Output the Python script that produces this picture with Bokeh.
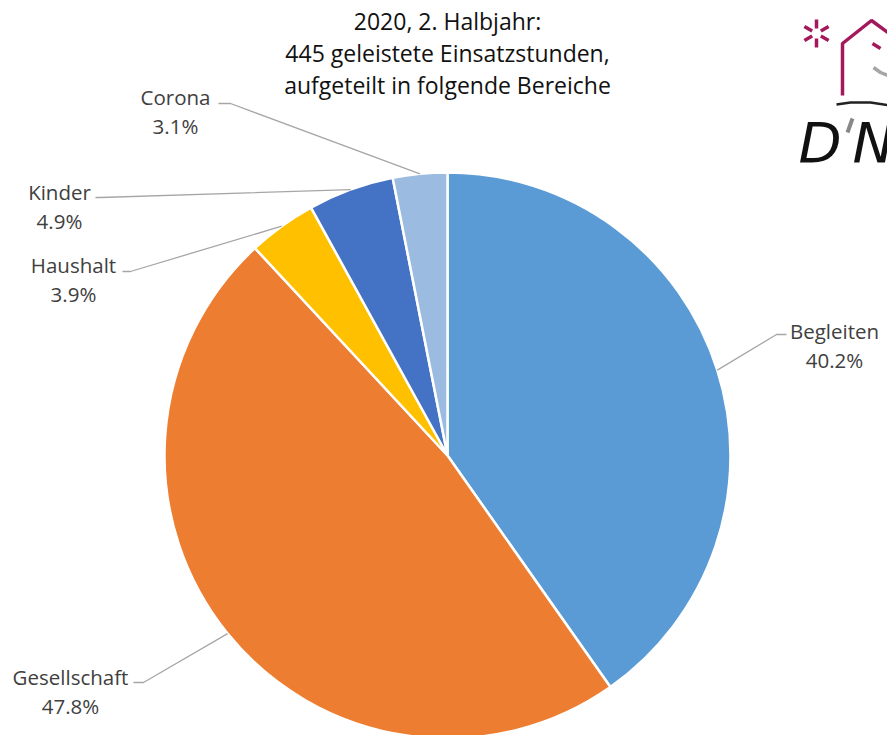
import math
from bokeh.plotting import figure
from bokeh.models import Range1d
from bokeh.core.properties import value
from bokeh.embed import file_html
from bokeh.resources import INLINE

# ---- data ----
categories = ["Begleiten", "Gesellschaft", "Haushalt", "Kinder", "Corona"]
percent = [40.2, 47.8, 3.9, 4.9, 3.1]
colors = ["#5B9BD5", "#ED7D31", "#FFC000", "#4472C4", "#9BBCE0"]
title_lines = ["2020, 2. Halbjahr:", "445 geleistete Einsatzstunden,", "aufgeteilt in folgende Bereiche"]

# ---- layout (pixel coords, y downward) ----
W, H = 887, 735
CX, CY, R = 447, 455, 283
label_pos = [(834, 330), (70, 676), (73, 264), (59, 191), (175, 96)]
bend_pts = [((776, 334), (786, 334)), ((143, 682), (133, 682)), ((130, 271), (122, 271)),
            ((100, 197), (95, 197)), ((230, 103), (218, 103))]
FONT = "Open Sans"

def Y(yp):
    return H - yp

p = figure(width=W, height=H, output_backend="svg", toolbar_location=None,
           x_range=Range1d(0, W), y_range=Range1d(0, H), min_border=0)
p.axis.visible = False
p.grid.visible = False
p.outline_line_color = None
p.background_fill_color = "white"

total = sum(percent)
cum = 0.0
starts, ends, mids = [], [], []
for v in percent:
    a0 = cum / total
    cum += v
    a1 = cum / total
    # clockwise from 12 o'clock
    starts.append(math.pi / 2 - 2 * math.pi * a1)
    ends.append(math.pi / 2 - 2 * math.pi * a0)
    mids.append(math.pi / 2 - 2 * math.pi * (a0 + a1) / 2)

p.wedge(x=[CX] * len(percent), y=[Y(CY)] * len(percent), radius=R,
        start_angle=starts, end_angle=ends, direction="anticlock",
        fill_color=colors, line_color="white", line_width=2.5)

# leader lines
for i, m in enumerate(mids):
    ex = CX + R * math.cos(m)
    ey = Y(CY) + R * math.sin(m)
    (bx, by), (hx, hy) = bend_pts[i]
    p.line([ex, bx, hx], [ey, Y(by), Y(hy)], line_color="#A6A6A6", line_width=1.3)

# labels
for i, c in enumerate(categories):
    lx, ly = label_pos[i]
    p.text(x=[lx], y=[Y(ly)], text=[c], text_align="center", text_baseline="middle",
           text_font=value(FONT), text_font_size="20.5px", text_color="#404040")
    p.text(x=[lx], y=[Y(ly + 29)], text=[f"{percent[i]:.1f}%"], text_align="center",
           text_baseline="middle", text_font=value(FONT), text_font_size="20.5px",
           text_color="#404040")

# title
for k, t in enumerate(title_lines):
    p.text(x=[447], y=[Y(20 + 32 * k)], text=[t], text_align="center", text_baseline="middle",
           text_font=value(FONT), text_font_size="23px", text_color="#111111")

# logo (top right)
MAG = "#A3195B"
acx, acy = 816, 33
for ang in [90, 30, 150, 210, 270, 330]:
    a = math.radians(ang)
    p.line([acx + 5 * math.cos(a), acx + 14 * math.cos(a)],
           [Y(acy) + 5 * math.sin(a), Y(acy) + 14 * math.sin(a)],
           line_color=MAG, line_width=3.5)
p.line([842, 842, 871, 890], [Y(95), Y(43), Y(20), Y(34)], line_color=MAG, line_width=3.5)
p.line([872, 880], [Y(43), Y(48)], line_color=MAG, line_width=3.5)
p.line([873, 880, 890], [Y(67), Y(72), Y(76)], line_color="#A6A6A6", line_width=3.5)
p.line([836, 850, 870, 890], [Y(104), Y(102), Y(102), Y(105)], line_color="#222222", line_width=2.5)
p.text(x=[798], y=[Y(142)], text=["D"], text_font=value("DejaVu Sans"), text_font_style="italic",
       text_font_size="56px", text_baseline="alphabetic", text_color="#111111")
p.line([852, 847], [Y(118), Y(132)], line_color="#888888", line_width=4)
p.text(x=[852], y=[Y(142)], text=["N"], text_font=value("DejaVu Sans"), text_font_style="italic",
       text_font_size="56px", text_baseline="alphabetic", text_color="#111111")

open("out.html", "w").write(file_html(p, INLINE))
